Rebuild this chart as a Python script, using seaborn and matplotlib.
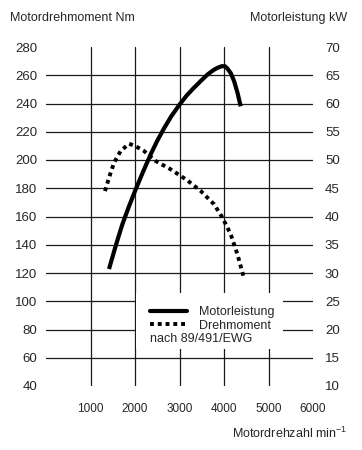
import matplotlib
matplotlib.use("Agg")
import matplotlib.pyplot as plt
import seaborn as sns
from matplotlib.lines import Line2D
from matplotlib.patches import Rectangle

# engine curves
power_rpm = [1416, 1570, 1715, 1860, 2000, 2180, 2352, 2500, 2652, 2820, 3000, 3160, 3326,
             3480, 3625, 3760, 3850, 3948, 4020, 4075, 4150, 4225, 4300, 4375]
power_kw = [30.7, 34.9, 38.6, 41.7, 44.5, 47.9, 51.0, 53.4, 55.6, 57.8, 59.8, 61.4, 62.8,
            64.0, 65.1, 65.9, 66.3, 66.6, 66.6, 66.2, 65.4, 64.0, 62.0, 59.5]

torque_rpm = [1326, 1416, 1528, 1678, 1865, 2000, 2202, 2464, 2801, 3176, 3476, 3775, 3963, 4150, 4300, 4434]
torque_nm = [178, 187.5, 198, 206.4, 211.5, 210, 206.4, 199.3, 193.4, 185.6, 178.1, 168.7, 159.3, 147.5, 133.4, 118.1]

x_ticks = [1000, 2000, 3000, 4000, 5000, 6000]
nm_ticks = list(range(40, 281, 20))
kw_ticks = list(range(10, 71, 5))

sns.set_style("white")
plt.rcParams['font.family'] = ['Liberation Sans', 'DejaVu Sans']
plt.rcParams['mathtext.fontset'] = 'custom'
plt.rcParams['mathtext.rm'] = 'Liberation Sans'

fig = plt.figure(figsize=(3.62, 4.5), dpi=100)
ax = fig.add_axes([46 / 362, 1 - 386 / 450, 267 / 362, 339 / 450])
ax2 = ax.twinx()

ax.set_xlim(0, 6000)
ax.set_ylim(40, 280)
ax2.set_ylim(10, 70)

grid_col = '#1a1a1a'
for y in nm_ticks[1:-1]:
    ax.axhline(y, color=grid_col, lw=0.9, zorder=1)
for x in x_ticks[:-1]:
    ax.axvline(x, color=grid_col, lw=0.9, zorder=1)

# white box behind the legend
ax.add_patch(Rectangle((2030, 66), 3300, 40, facecolor='white', edgecolor='none', zorder=2))

sns.lineplot(x=torque_rpm, y=torque_nm, ax=ax, color='black', lw=2.8,
             linestyle=(0, (1, 1)), dash_capstyle='butt', zorder=3)
sns.lineplot(x=power_rpm, y=power_kw, ax=ax2, color='black', lw=3.0,
             solid_capstyle='butt', solid_joinstyle='round', zorder=3)

ax.set_xticks(x_ticks)
ax.set_yticks(nm_ticks)
ax2.set_yticks(kw_ticks)
ax.tick_params(axis='x', length=0, pad=12, labelsize=8.5)
ax.tick_params(axis='y', length=0, pad=6.5, labelsize=9.5)
ax2.tick_params(axis='y', length=0, pad=8.6, labelsize=9.5)
for a in (ax, ax2):
    for s in a.spines.values():
        s.set_visible(False)
ax.set_xlabel('')
ax.set_ylabel('')
ax2.set_ylabel('')

handles = [Line2D([], [], color='black', lw=3.0),
           Line2D([], [], color='black', lw=2.8, linestyle=(0, (1, 1)), dash_capstyle='butt')]
ax2.legend(handles, ['Motorleistung', 'Drehmoment'], loc='upper left',
           bbox_to_anchor=(0.3895, 0.236), frameon=False, fontsize=9,
           handlelength=3.0, handletextpad=0.9, labelspacing=0.15, borderpad=0,
           borderaxespad=0)
ax2.text(0.3895, 0.139, 'nach 89/491/EWG', transform=ax2.transAxes,
         fontsize=9, va='center', ha='left')

fig.text(10 / 362, 1 - 18 / 450, 'Motordrehmoment Nm', fontsize=9, va='center', ha='left')
fig.text(347 / 362, 1 - 18 / 450, 'Motorleistung kW', fontsize=9, va='center', ha='right')
fig.text(347 / 362, 1 - 433 / 450, 'Motordrehzahl min$^{-1}$', fontsize=9, va='center', ha='right')

fig.savefig('out.png', dpi=100)
